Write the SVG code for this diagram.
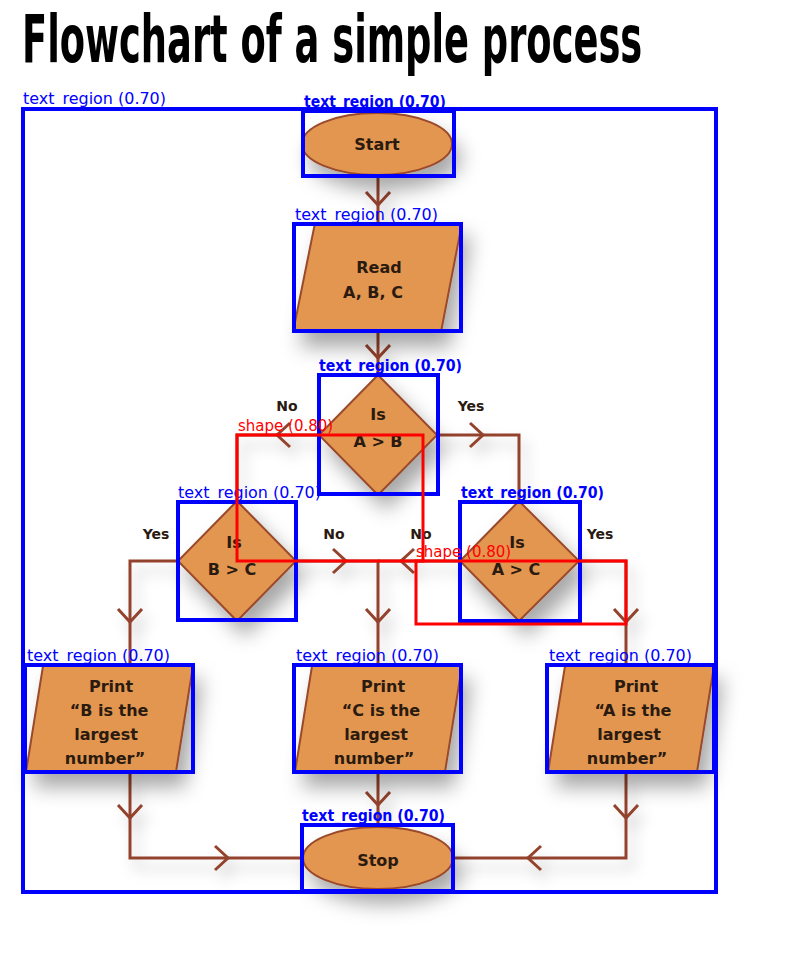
<svg xmlns="http://www.w3.org/2000/svg" width="800" height="961" viewBox="0 0 800 961">
<style>
.shape{fill:#E3964F;stroke:#9A4A2C;stroke-width:2}
.lbl{font-family:"DejaVu Sans",sans-serif;font-weight:bold;font-size:16px;fill:#2a1a10;text-anchor:middle}
.yn{font-family:"DejaVu Sans",sans-serif;font-weight:bold;font-size:14px;fill:#2a1a10;text-anchor:middle}
.con{fill:none;stroke:#93432D;stroke-width:3;stroke-linejoin:miter}
.chev{fill:none;stroke:#93432D;stroke-width:3}
.box{fill:none;stroke:#0000FF;stroke-width:4}
.rbox{fill:none;stroke:#FF0000;stroke-width:3}
.tr{font-family:"DejaVu Sans",sans-serif;font-size:15px;fill:#0000FF}
.sh{font-family:"DejaVu Sans",sans-serif;font-size:15px;fill:#FF0000}
</style>
<defs>
<filter id="ds" x="-40%" y="-40%" width="200%" height="220%">
<feDropShadow dx="8" dy="14" stdDeviation="10" flood-color="#000" flood-opacity="0.35"/>
</filter>
<filter id="ls" x="-30%" y="-30%" width="160%" height="160%">
<feDropShadow dx="6" dy="10" stdDeviation="7" flood-color="#000" flood-opacity="0.22"/>
</filter>
</defs>
<rect width="800" height="961" fill="#fff"/>
<text transform="translate(22,62) scale(0.62,1)" x="0" y="0" font-family="DejaVu Sans Condensed, sans-serif" font-weight="bold" font-size="66" fill="#000">Flowchart of a simple process</text>

<g id="connectors" filter="url(#ls)">
<path class="con" d="M378,175 V222"/>
<path class="chev" d="M366,192 L378,205 L390,192"/>
<path class="con" d="M378,332 V375"/>
<path class="chev" d="M366,345 L378,358 L390,345"/>
<path class="con" d="M319,435 H237 V501"/>
<path class="chev" d="M290,423 L277,435 L290,447"/>
<path class="con" d="M437,435 H519 V501"/>
<path class="chev" d="M470,423 L483,435 L470,447"/>
<path class="con" d="M178,561 H130 V665"/>
<path class="chev" d="M118,609 L130,622 L142,609"/>
<path class="con" d="M296,561 H378 V665"/>
<path class="chev" d="M333,549 L346,561 L333,573"/>
<path class="chev" d="M366,609 L378,622 L390,609"/>
<path class="con" d="M460,561 H378"/>
<path class="chev" d="M414,549 L401,561 L414,573"/>
<path class="con" d="M579,561 H626 V665"/>
<path class="chev" d="M614,609 L626,622 L638,609"/>
<path class="con" d="M130,772 V858 H303"/>
<path class="chev" d="M118,805 L130,818 L142,805"/>
<path class="chev" d="M215,846 L228,858 L215,870"/>
<path class="con" d="M378,772 V827"/>
<path class="chev" d="M366,792 L378,805 L390,792"/>
<path class="con" d="M626,772 V858 H453"/>
<path class="chev" d="M614,805 L626,818 L638,805"/>
<path class="chev" d="M541,846 L528,858 L541,870"/>
</g>

<g id="start">
<ellipse class="shape" cx="377" cy="144" rx="75" ry="31" filter="url(#ds)"/>
<text class="lbl" x="377" y="150">Start</text>
</g>
<g id="read">
<polygon class="shape" points="315,223 462,223 441,332 293,332" filter="url(#ds)"/>
<text class="lbl" x="379" y="273">Read</text>
<text class="lbl" x="373" y="298">A, B, C</text>
</g>
<g id="decision1">
<polygon class="shape" points="378,375 437,435 378,495 319,435" filter="url(#ds)"/>
<text class="lbl" x="378" y="420">Is</text>
<text class="lbl" x="378" y="447">A &gt; B</text>
<text class="yn" x="287" y="411">No</text>
<text class="yn" x="471" y="411">Yes</text>
</g>
<g id="decision2">
<polygon class="shape" points="237,501 296,561 237,621 178,561" filter="url(#ds)"/>
<text class="lbl" x="234" y="548">Is</text>
<text class="lbl" x="232" y="575">B &gt; C</text>
<text class="yn" x="156" y="539">Yes</text>
<text class="yn" x="334" y="539">No</text>
</g>
<g id="decision3">
<polygon class="shape" points="519,501 579,561 519,621 460,561" filter="url(#ds)"/>
<text class="lbl" x="517" y="548">Is</text>
<text class="lbl" x="516" y="575">A &gt; C</text>
<text class="yn" x="421" y="539">No</text>
<text class="yn" x="600" y="539">Yes</text>
</g>
<g id="printB">
<polygon class="shape" points="43,666 193,666 176,772 26,772" filter="url(#ds)"/>
<text class="lbl" x="111" y="692">Print</text>
<text class="lbl" x="109" y="716">“B is the</text>
<text class="lbl" x="106" y="740">largest</text>
<text class="lbl" x="105" y="764">number”</text>
</g>
<g id="printC">
<polygon class="shape" points="312,666 462,666 445,772 295,772" filter="url(#ds)"/>
<text class="lbl" x="383" y="692">Print</text>
<text class="lbl" x="381" y="716">“C is the</text>
<text class="lbl" x="376" y="740">largest</text>
<text class="lbl" x="374" y="764">number”</text>
</g>
<g id="printA">
<polygon class="shape" points="565,666 714,666 697,772 548,772" filter="url(#ds)"/>
<text class="lbl" x="636" y="692">Print</text>
<text class="lbl" x="633" y="716">“A is the</text>
<text class="lbl" x="629" y="740">largest</text>
<text class="lbl" x="627" y="764">number”</text>
</g>
<g id="stop">
<ellipse class="shape" cx="378" cy="858" rx="75" ry="31" filter="url(#ds)"/>
<text class="lbl" x="378" y="866">Stop</text>
</g>

<g id="annotations">
<rect class="box" x="23" y="109" width="693" height="783"/>
<text class="tr" x="23" y="104" textLength="143" lengthAdjust="spacingAndGlyphs">text_region (0.70)</text>
<rect class="box" x="303" y="111" width="151" height="65"/>
<text class="tr" x="304" y="107" textLength="142" lengthAdjust="spacingAndGlyphs" font-weight="bold">text_region (0.70)</text>
<rect class="box" x="294" y="224" width="167" height="107"/>
<text class="tr" x="295" y="220" textLength="143" lengthAdjust="spacingAndGlyphs">text_region (0.70)</text>
<rect class="box" x="319" y="375" width="119" height="119"/>
<text class="tr" x="319" y="371" textLength="143" lengthAdjust="spacingAndGlyphs" font-weight="bold">text_region (0.70)</text>
<rect class="box" x="178" y="502" width="118" height="118"/>
<text class="tr" x="178" y="498" textLength="143" lengthAdjust="spacingAndGlyphs">text_region (0.70)</text>
<rect class="box" x="460" y="502" width="120" height="119"/>
<text class="tr" x="461" y="498" textLength="143" lengthAdjust="spacingAndGlyphs" font-weight="bold">text_region (0.70)</text>
<rect class="box" x="25" y="665" width="168" height="107"/>
<text class="tr" x="27" y="661" textLength="143" lengthAdjust="spacingAndGlyphs">text_region (0.70)</text>
<rect class="box" x="294" y="665" width="167" height="107"/>
<text class="tr" x="296" y="661" textLength="143" lengthAdjust="spacingAndGlyphs">text_region (0.70)</text>
<rect class="box" x="547" y="665" width="167" height="107"/>
<text class="tr" x="549" y="661" textLength="143" lengthAdjust="spacingAndGlyphs">text_region (0.70)</text>
<rect class="box" x="302" y="825" width="151" height="66"/>
<text class="tr" x="302" y="821" textLength="143" lengthAdjust="spacingAndGlyphs" font-weight="bold">text_region (0.70)</text>
<rect class="rbox" x="237" y="435" width="186" height="126"/>
<text class="sh" x="238" y="431">shape (0.80)</text>
<rect class="rbox" x="416" y="561" width="210" height="63"/>
<text class="sh" x="416" y="557">shape (0.80)</text>
</g>
</svg>
